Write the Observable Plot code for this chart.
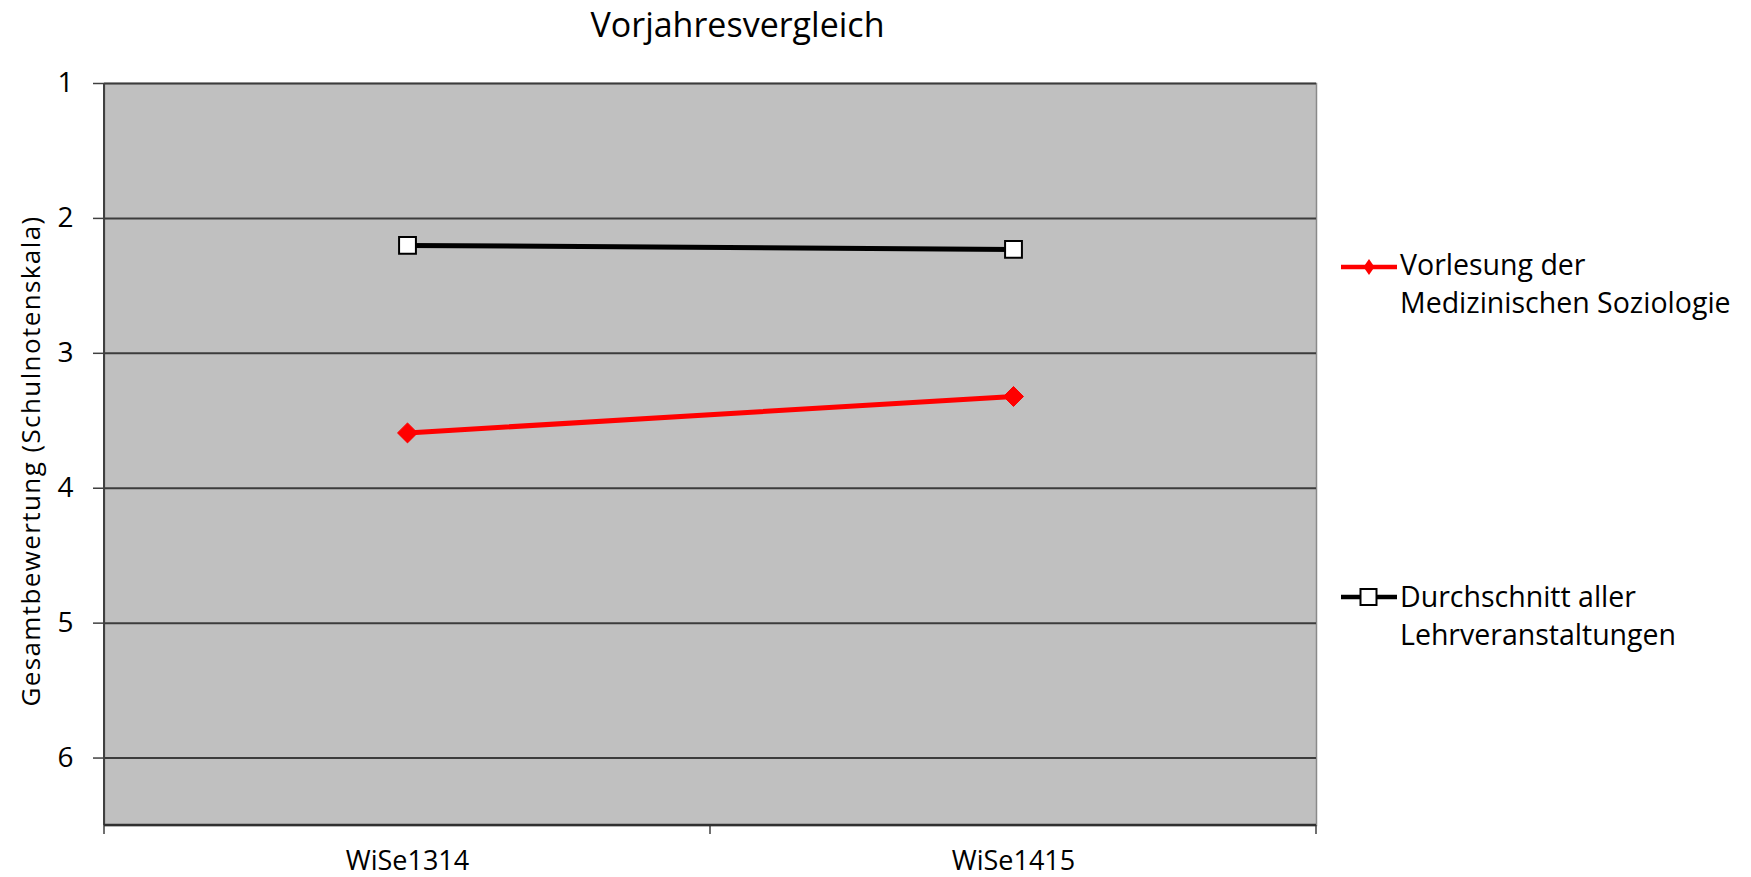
<!DOCTYPE html>
<html><head><meta charset="utf-8">
<script src="https://cdn.jsdelivr.net/npm/d3@7"></script>
<script src="https://cdn.jsdelivr.net/npm/@observablehq/plot@0.6"></script>
<style>
body{margin:0;background:#fff;font-family:"Open Sans", sans-serif;color:#000}
#wrap{position:relative;width:1751px;height:877px;overflow:hidden;background:#fff}
#title{height:60px;position:relative}
#title span{position:absolute;left:0;width:1475px;text-align:center;top:7px;font-size:34px;line-height:34px;white-space:nowrap}
#ylab{position:absolute;width:700px;left:-320px;top:446px;height:30px;line-height:30px;font-size:26px;letter-spacing:1.4px;text-align:center;transform:rotate(-90deg);transform-origin:center;white-space:nowrap}
.legtxt{position:absolute;left:1400px;font-size:28.5px;line-height:38px;white-space:nowrap}
.legsw{position:absolute;left:1340px}
</style></head><body>
<div id="wrap">
<div id="title"><span id="titletext"></span></div>
<div id="chart"></div>
<div id="ylab"></div>
</div>
<script>
const categories = ["WiSe1314", "WiSe1415"];
const seriesNames = ["Vorlesung der Medizinischen Soziologie", "Durchschnitt aller Lehrveranstaltungen"];
const legendLines = [["Vorlesung der", "Medizinischen Soziologie"], ["Durchschnitt aller", "Lehrveranstaltungen"]];
const vorlesung = [3.59, 3.32];
const durchschnitt = [2.2, 2.23];
const yTicks = [1, 2, 3, 4, 5, 6];
const yDomain = [1, 6.5];
const titleText = "Vorjahresvergleich";
const yLabel = "Gesamtbewertung (Schulnotenskala)";

document.getElementById("titletext").textContent = titleText;
document.getElementById("ylab").textContent = yLabel;

const redData = categories.map((c, i) => ({cat: c, v: vorlesung[i]}));
const blackData = categories.map((c, i) => ({cat: c, v: durchschnitt[i]}));

function frameLines(index, scales, values, dims) {
  const g = d3.create("svg:g");
  const x = scales.x, y = scales.y;
  const bw = x.bandwidth();
  const edges = [...categories.map(c => x(c)), x(categories[categories.length - 1]) + bw];
  const yb = y(yDomain[1]), yt = y(yDomain[0]);
  g.selectAll("line.t").data(edges).join("line")
    .attr("x1", d => d).attr("x2", d => d).attr("y1", yb).attr("y2", yb + 9)
    .attr("stroke", "#404040").attr("stroke-width", 1.5);
  g.append("line").attr("x1", edges[0]).attr("x2", edges[0]).attr("y1", yt).attr("y2", yb)
    .attr("stroke", "#404040").attr("stroke-width", 2);
  g.append("line").attr("x1", edges[0]).attr("x2", edges[edges.length - 1]).attr("y1", yb).attr("y2", yb)
    .attr("stroke", "#303030").attr("stroke-width", 2.5);
  return g.node();
}

const chart = Plot.plot({
  width: 1751, height: 817,
  marginLeft: 104, marginRight: 435, marginTop: 23, marginBottom: 52,
  style: {fontFamily: "'Open Sans', sans-serif", background: "white", overflow: "visible", color: "black"},
  x: {type: "band", domain: categories, padding: 0, label: null},
  y: {domain: yDomain, reverse: true, label: null},
  marks: [
    Plot.frame({fill: "#c0c0c0", stroke: "#8a8a8a", strokeWidth: 1.5}),
    Plot.ruleY(yTicks, {stroke: "#3c3c3c", strokeWidth: 2}),
    Plot.axisY({ticks: yTicks, tickFormat: "d", tickSize: 11, tickPadding: 20, fontSize: 28, stroke: "#404040", strokeWidth: 1.5, label: null}),
    Plot.axisX({tickSize: 0, tickPadding: 25, fontSize: 27, label: null}),
    frameLines,
    Plot.line(blackData, {x: "cat", y: "v", stroke: "black", strokeWidth: 5}),
    Plot.dot(blackData, {x: "cat", y: "v", symbol: "square", r: 9.5, fill: "white", stroke: "black", strokeWidth: 2}),
    Plot.line(redData, {x: "cat", y: "v", stroke: "#ff0000", strokeWidth: 5}),
    Plot.dot(redData, {x: "cat", y: "v", symbol: "diamond2", r: 9, fill: "#ff0000", stroke: "#ff0000", strokeWidth: 1})
  ]
});
document.getElementById("chart").appendChild(chart);

// legend
const wrap = document.getElementById("wrap");
const legTops = [245, 577];
const swTops = [257, 587];
const swatches = [
  `<svg class="legsw" width="60" height="20" style="top:${swTops[0]}px"><line x1="1" x2="57" y1="10" y2="10" stroke="#ff0000" stroke-width="4.5"/><path d="M29,2L34.5,10L29,18L23.5,10Z" fill="#ff0000"/></svg>`,
  `<svg class="legsw" width="60" height="20" style="top:${swTops[1]}px"><line x1="1" x2="57" y1="10" y2="10" stroke="#000" stroke-width="4.5"/><rect x="20.5" y="2" width="16" height="16" fill="#fff" stroke="#000" stroke-width="2"/></svg>`
];
legendLines.forEach((lines, i) => {
  wrap.insertAdjacentHTML("beforeend", swatches[i]);
  const d = document.createElement("div");
  d.className = "legtxt";
  d.style.top = legTops[i] + "px";
  d.innerHTML = lines.map(l => `<div>${l}</div>`).join("");
  wrap.appendChild(d);
});
</script>
</body></html>
